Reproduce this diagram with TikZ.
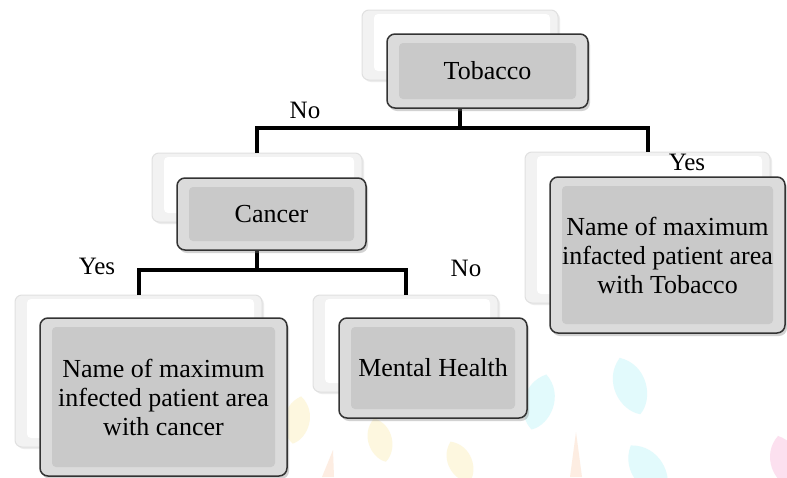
\documentclass[tikz,border=0pt]{standalone}
\usepackage{fontspec}
\setmainfont{Liberation Serif}
\usetikzlibrary{shadows,calc}
\definecolor{leafcyan}{HTML}{E2FAFC}
\definecolor{leafyellow}{HTML}{FDF7DF}
\definecolor{leafpink}{HTML}{FCE0EF}
\definecolor{leaforange}{HTML}{FDEDE2}
\newcommand\myleaf[5]{%
  \begin{scope}[shift={(#1,#2)},rotate=#3,scale=#4]
    \fill[#5] (0,-30) .. controls (24,-14) and (18,20) .. (0,30) .. controls (-18,20) and (-24,-14) .. (0,-30);
  \end{scope}}
\tikzset{
  frontbox/.style={rounded corners=8pt, draw=black!80, line width=1.5pt, fill=black!14,
    drop shadow={opacity=0.35,shadow xshift=2pt,shadow yshift=-3pt},
    path picture={\fill[black!21,rounded corners=4pt]
      ([xshift=12pt,yshift=9pt]path picture bounding box.south west) rectangle
      ([xshift=-12pt,yshift=-9pt]path picture bounding box.north east);},
    inner sep=0pt, align=center, font=\fontsize{26}{29}\selectfont},
  backbox/.style={rounded corners=7pt, draw=black!12, line width=1pt, fill=black!5,
    drop shadow={opacity=0.15,shadow xshift=2pt,shadow yshift=-2pt},
    path picture={\fill[white,rounded corners=4pt]
      ([xshift=12pt,yshift=9pt]path picture bounding box.south west) rectangle
      ([xshift=-8pt,yshift=-4pt]path picture bounding box.north east);},
    inner sep=0pt},
  conn/.style={line width=4pt, draw=black, line join=miter},
  lbl/.style={font=\fontsize{25}{28}\selectfont, inner sep=0pt}
}
\begin{document}
\begin{tikzpicture}[x=1pt,y=-1pt]
\useasboundingbox (0,0) rectangle (787,477);
\clip (0,0) rectangle (787,477);
\fill[white] (0,0) rectangle (787,477);
% faint watermark leaves
\myleaf{539}{402}{-15}{0.95}{leafcyan}
\myleaf{630}{386}{20}{1.0}{leafcyan}
\myleaf{648}{470}{35}{1.0}{leafcyan}
\myleaf{380}{440}{15}{0.75}{leafyellow}
\myleaf{460}{462}{25}{0.75}{leafyellow}
\myleaf{297}{420}{-10}{0.8}{leafyellow}
\myleaf{785}{462}{15}{0.9}{leafpink}
\fill[leaforange] (322,477) -- (333,450) -- (334,477) -- cycle;
\fill[leaforange] (570,477) -- (576,432) -- (582,477) -- cycle;
% back boxes
\node[backbox, minimum width=196pt, minimum height=70pt] (tobback) at (460,45) {};
\node[backbox, minimum width=210pt, minimum height=69pt] (cancback) at (257,187.5) {};
\node[backbox, minimum width=245pt, minimum height=151pt] (rback) at (647.5,227.5) {};
\node[backbox, minimum width=247pt, minimum height=152pt] (blback) at (138.5,371) {};
\node[backbox, minimum width=185pt, minimum height=97pt] (mhback) at (405.5,343.5) {};
% connectors
\coordinate (j1) at (0,128);
\coordinate (j2) at (0,270);
\draw[conn] (tobback.center |- 0,106) -- (tobback.center |- j1) -| (cancback.north);
\draw[conn] (tobback.center |- j1) -| (rback.north);
\draw[conn] (cancback.center |- 0,248) -- (cancback.center |- j2) -| (blback.north);
\draw[conn] (cancback.center |- j2) -| (mhback.north);
% front boxes
\node[frontbox, minimum width=201pt, minimum height=74pt] (tob) at (487.5,71) {Tobacco};
\node[frontbox, minimum width=189pt, minimum height=72pt] (canc) at (271.5,214) {Cancer};
\node[frontbox, minimum width=235pt, minimum height=156pt] (rfront) at (667.5,255) {Name of maximum\\infacted patient area\\with Tobacco};
\node[frontbox, minimum width=247pt, minimum height=158pt] (blfront) at (163.5,397) {Name of maximum\\infected patient area\\with cancer};
\node[frontbox, minimum width=188pt, minimum height=100pt] (mh) at (433,368) {Mental Health};
% labels
\node[lbl] (lno1) at (305,110) {No};
\node[lbl] (lyes1) at (687,162) {Yes};
\node[lbl] (lyes2) at (97,266) {Yes};
\node[lbl] (lno2) at (466,268) {No};
\end{tikzpicture}
\end{document}
